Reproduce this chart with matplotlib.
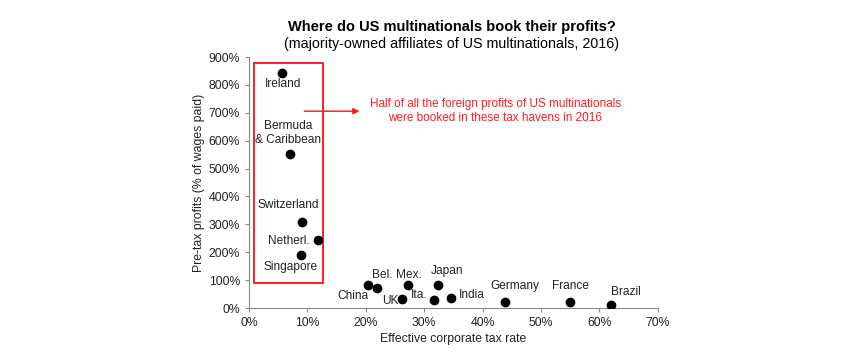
import numpy as np
from matplotlib import pyplot as plt
from matplotlib.patches import Rectangle
from matplotlib.ticker import PercentFormatter

plt.rcParams['font.family'] = ['Liberation Sans', 'DejaVu Sans']

# data (tax rate %, profits as % of wages paid)
countries = ["Ireland", "Bermuda\n& Caribbean", "Switzerland", "Netherl.", "Singapore",
             "China", "Bel.", "Mex.", "UK", "Japan", "Ita.", "India",
             "Germany", "France", "Brazil"]
tax_rate = [5.7, 7.0, 9.0, 11.8, 8.9, 20.4, 21.9, 27.2, 26.2, 32.4, 31.6, 34.6, 43.8, 55.0, 62.0]
profits = [843, 551, 309, 243, 190, 81, 72, 81, 32, 83, 27, 35, 21, 21, 10]

# label offsets in pixels (dx, dy) from each dot
label_offsets = [(1, -11), (-2, 21), (-13, 17), (-29, -1), (-11, -12),
                 (-15, -11), (5, 13), (1, 10), (-12, -2), (9, 14), (-14, 5), (21, 3),
                 (10, 16), (0, 16), (15, 13)]

fig = plt.figure(figsize=(8.62, 3.6), dpi=100)
ax = fig.add_axes([0.289, 0.1444, 0.474, 0.697])

ax.scatter(tax_rate, profits, s=36, color="black", zorder=3)

for name, x, y, off in zip(countries, tax_rate, profits, label_offsets):
    ax.annotate(name, (x, y), xytext=off, textcoords="offset pixels",
                ha="center", va="center", fontsize=8.6, color="#222222",
                linespacing=1.2)

# box around the tax havens
box = Rectangle((0.8, 88), 11.9, 790, fill=False, edgecolor="#ff2020", linewidth=1.4, zorder=2)
ax.add_patch(box)
ax.annotate("", xy=(19.4, 706), xytext=(9.0, 706),
            arrowprops=dict(arrowstyle="-|>", color="#ff2020", lw=1.1, mutation_scale=9))
ax.text(42.2, 706, "Half of all the foreign profits of US multinationals\nwere booked in these tax havens in 2016",
        ha="center", va="center", fontsize=8.5, color="#ff2020", linespacing=1.2)

ax.set_xlim(0, 70)
ax.set_ylim(0, 900)
ax.set_xticks(np.arange(0, 71, 10))
ax.set_yticks(np.arange(0, 901, 100))
ax.xaxis.set_major_formatter(PercentFormatter(decimals=0))
ax.yaxis.set_major_formatter(PercentFormatter(decimals=0))
ax.tick_params(labelsize=8.8, length=3, color="#888888", labelcolor="#222222")
for side in ["top", "right"]:
    ax.spines[side].set_visible(False)
for side in ["left", "bottom"]:
    ax.spines[side].set_color("#888888")
    ax.spines[side].set_linewidth(0.8)

ax.set_xlabel("Effective corporate tax rate", fontsize=8.8, color="#222222", labelpad=3)
ax.set_ylabel("Pre-tax profits (% of wages paid)", fontsize=8.8, color="#222222", labelpad=2.5)

fig.text(0.524, 0.925, "Where do US multinationals book their profits?",
         ha="center", va="center", fontsize=10.5, fontweight="bold")
fig.text(0.524, 0.877, "(majority-owned affiliates of US multinationals, 2016)",
         ha="center", va="center", fontsize=10.3)

plt.savefig("out.png", dpi=100)
